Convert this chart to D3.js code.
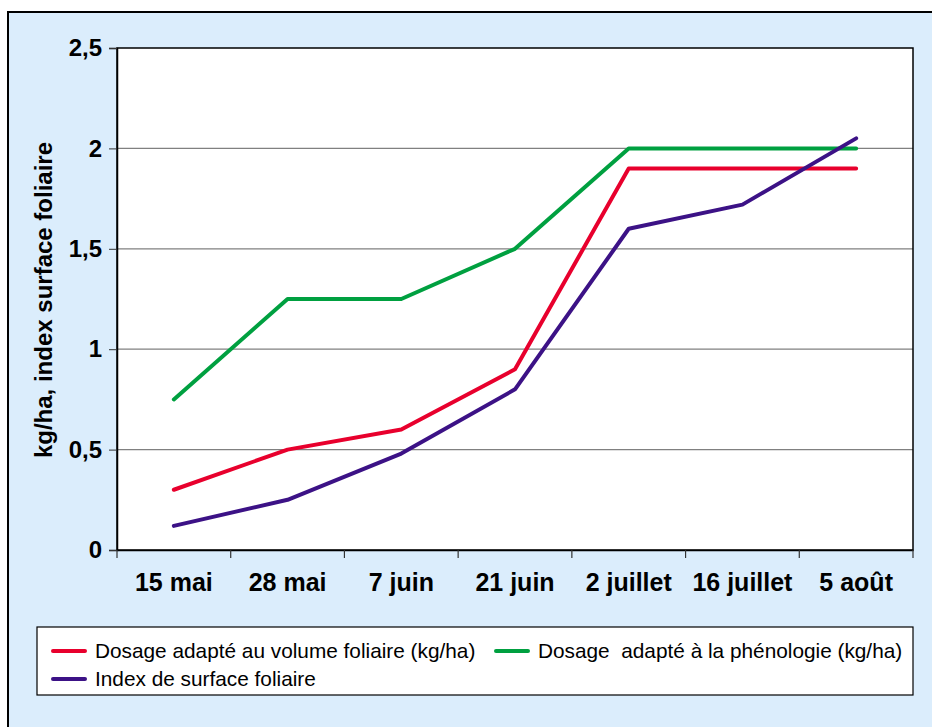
<!DOCTYPE html>
<html><head><meta charset="utf-8">
<script src="https://cdn.jsdelivr.net/npm/d3@7"></script>
<style>body{margin:0;background:#fff}svg{display:block}</style>
</head><body>
<script>
const categories = ["15 mai","28 mai","7 juin","21 juin","2 juillet","16 juillet","5 août"];
const volumeValues = [0.3,0.5,0.6,0.9,1.9,1.9,1.9];
const phenoValues = [0.75,1.25,1.25,1.5,2.0,2.0,2.0];
const indexValues = [0.12,0.25,0.48,0.8,1.6,1.72,2.05];
const yTicks = [0,0.5,1,1.5,2,2.5];
const yTickLabels = ["0","0,5","1","1,5","2","2,5"];
const seriesNames = ["Dosage adapté au volume foliaire (kg/ha)","Dosage  adapté à la phénologie (kg/ha)","Index de surface foliaire"];
const seriesColors = ["#e8002d","#00a040","#3c1286"];
const yTitle = "kg/ha, index surface foliaire";

const FONT="'Liberation Sans', Arial, sans-serif";
const W=932,H=727;
const svg=d3.select("body").append("svg").attr("width",W).attr("height",H);
svg.append("rect").attr("x",8).attr("y",12).attr("width",W+10).attr("height",H+10)
  .attr("fill","#dbedfc").attr("stroke","#000").attr("stroke-width",2);

const L=117,R=913,T=48,B=550;
const x=d3.scaleBand().domain(categories).range([L,R]);
const y=d3.scaleLinear().domain([0,2.5]).range([B,T]);

svg.append("rect").attr("x",L).attr("y",T).attr("width",R-L).attr("height",B-T)
  .attr("fill","#fff");
svg.append("g").selectAll("line").data(yTicks.filter(d=>d>0&&d<2.5)).join("line")
  .attr("x1",L).attr("x2",R).attr("y1",d=>y(d)).attr("y2",d=>y(d))
  .attr("stroke","#808080").attr("stroke-width",1.2);
svg.append("rect").attr("x",L).attr("y",T).attr("width",R-L).attr("height",B-T)
  .attr("fill","none").attr("stroke","#000").attr("stroke-width",1.5);

const yAx=svg.append("g").attr("transform",`translate(${L},0)`)
  .call(d3.axisLeft(y).tickValues(yTicks).tickFormat((d,i)=>yTickLabels[i]).tickSize(8).tickPadding(7));
yAx.select(".domain").attr("stroke","#000").attr("stroke-width",1.5);
yAx.selectAll(".tick line").attr("stroke","#333");
yAx.selectAll("text").style("font-family",FONT).style("font-weight","bold").style("font-size","24px").attr("fill","#000");

const xAx=svg.append("g").attr("transform",`translate(0,${B})`)
  .call(d3.axisBottom(x).tickSize(0).tickPadding(23));
xAx.select(".domain").attr("stroke","#000").attr("stroke-width",1.5);
xAx.selectAll("text").style("font-family",FONT).style("font-weight","bold").style("font-size","25px").attr("fill","#000");
const bounds=categories.map(c=>x(c)).concat([R]);
svg.append("g").selectAll("line").data(bounds).join("line")
  .attr("x1",d=>d).attr("x2",d=>d).attr("y1",B).attr("y2",B+8).attr("stroke","#333").attr("stroke-width",1.2);

svg.append("text").attr("transform",`translate(52,${(T+B)/2+1}) rotate(-90)`)
  .attr("text-anchor","middle").style("font-family",FONT)
  .style("font-weight","bold").style("font-size","24px").text(yTitle);

const line=d3.line().x((d,i)=>x(categories[i])+x.bandwidth()/2).y(d=>y(d));
[volumeValues,phenoValues,indexValues].forEach((vals,i)=>{
  svg.append("path").datum(vals).attr("d",line).attr("fill","none")
    .attr("stroke",seriesColors[i]).attr("stroke-width",4).attr("stroke-linejoin","round").attr("stroke-linecap","round");
});

svg.append("rect").attr("x",37).attr("y",627).attr("width",876).attr("height",68)
  .attr("fill","#fff").attr("stroke","#000").attr("stroke-width",1.2);
const legPos=[[51,651],[494,651],[51,679]];
seriesNames.forEach((n,i)=>{
  const [lx,ly]=legPos[i];
  svg.append("line").attr("x1",lx+2).attr("x2",lx+34).attr("y1",ly).attr("y2",ly)
    .attr("stroke",seriesColors[i]).attr("stroke-width",4).attr("stroke-linecap","round");
  svg.append("text").attr("x",lx+44).attr("y",ly+7).style("font-family",FONT)
    .style("font-size","20.8px").attr("fill","#000").style("white-space","pre").text(n);
});
</script>
</body></html>
